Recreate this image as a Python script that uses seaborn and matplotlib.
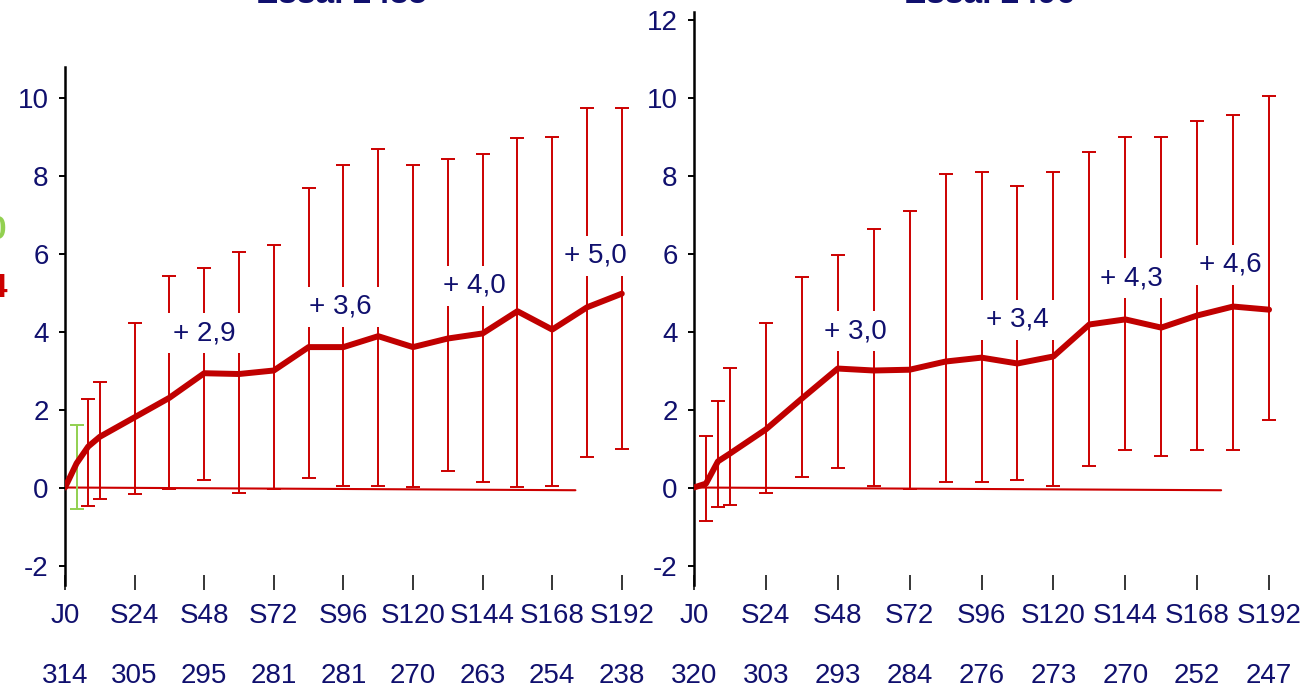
import matplotlib
matplotlib.use("Agg")
import matplotlib.pyplot as plt
import numpy as np
import pandas as pd
import seaborn as sns

# ---------------- data ----------------
weeks = [0, 4, 8, 12, 24, 36, 48, 60, 72, 84, 96, 108, 120, 132, 144, 156, 168, 180, 192]
err_weeks = weeks[1:]
tick_weeks = [0, 24, 48, 72, 96, 120, 144, 168, 192]
tick_labels = ["J0", "S24", "S48", "S72", "S96", "S120", "S144", "S168", "S192"]

left_title = "Essai 2485"
left_mean = [0.0, 0.62, 1.05, 1.3, 1.8, 2.3, 2.93, 2.91, 3.0, 3.6, 3.6, 3.88, 3.6, 3.82, 3.95, 4.52, 4.05, 4.62, 4.97]
left_upper = [1.6, 2.28, 2.7, 4.22, 5.42, 5.63, 6.03, 6.22, 7.68, 8.27, 8.67, 8.27, 8.42, 8.54, 8.95, 8.98, 9.72, 9.72]
left_lower = [-0.56, -0.47, -0.3, -0.16, -0.03, 0.2, -0.15, -0.03, 0.24, 0.04, 0.04, 0.02, 0.42, 0.14, 0.02, 0.04, 0.78, 0.98]
left_n = ["314", "305", "295", "281", "281", "270", "263", "254", "238"]
left_gain_text = ["+ 2,9", "+ 3,6", "+ 4,0", "+ 5,0"]
left_ref_weeks = [0, 176]
left_ref_vals = [0.0, -0.07]

right_title = "Essai 2496"
right_mean = [0.0, 0.1, 0.67, 0.87, 1.49, 2.28, 3.05, 3.0, 3.02, 3.23, 3.33, 3.18, 3.36, 4.18, 4.31, 4.1, 4.41, 4.64, 4.56]
right_upper = [1.33, 2.23, 3.07, 4.23, 5.41, 5.95, 6.64, 7.08, 8.05, 8.08, 7.72, 8.1, 8.59, 9.0, 9.0, 9.41, 9.56, 10.05]
right_lower = [-0.87, -0.51, -0.46, -0.15, 0.26, 0.51, 0.05, -0.03, 0.15, 0.15, 0.2, 0.03, 0.54, 0.95, 0.82, 0.95, 0.95, 1.74]
right_n = ["320", "303", "293", "284", "276", "273", "270", "252", "247"]
right_gain_text = ["+ 3,0", "+ 3,4", "+ 4,3", "+ 4,6"]
right_ref_weeks = [0, 176]
right_ref_vals = [0.0, -0.07]

# annotation anchor positions (week, baseline value)
left_gain_pos = [(48, 3.78), (95, 4.45), (141, 4.99), (183, 5.76)]
right_gain_pos = [(54, 3.83), (108, 4.12), (146, 5.19), (179, 5.53)]

# ---------------- style ----------------
sns.set_theme(style="white")
plt.rcParams["font.family"] = ["Liberation Sans", "DejaVu Sans"]
NAVY = "#10106E"
LINE_RED = "#C00000"
BAR_RED = "#CC0000"
GREEN = "#92D050"
FS = 20

W, H = 1309, 689
fig = plt.figure(figsize=(W / 100, H / 100), dpi=100)
fig.patch.set_facecolor("white")

ZERO_PX = 487.5
PX_PER_UNIT = 39.0
AX_BOTTOM_PX = 590
AX_TOP_PX = 8
ylo = -(AX_BOTTOM_PX - ZERO_PX) / PX_PER_UNIT
yhi = (ZERO_PX - AX_TOP_PX) / PX_PER_UNIT


def make_axes(left_px, px_per_week):
    width_px = 200 * px_per_week
    return fig.add_axes([left_px / W, 1 - AX_BOTTOM_PX / H, width_px / W,
                         (AX_BOTTOM_PX - AX_TOP_PX) / H])


def draw_panel(ax, mean, upper, lower, n_labels, gain_text, gain_pos,
               ref_w, ref_v, yticks, spine_top, first_color):
    ax.set_facecolor("white")
    mean_arr = np.array(mean)
    m = mean_arr[1:]
    up = np.array(upper)
    lo = np.array(lower)
    yerr = np.vstack([m - lo, up - m])

    # reference line at zero
    ax.plot(ref_w, ref_v, color=BAR_RED, lw=1.5, zorder=2)

    # error bars
    ax.errorbar(err_weeks[:1], m[:1], yerr=yerr[:, :1], fmt="none",
                ecolor=first_color, elinewidth=1.4, capsize=5, capthick=1.4, zorder=3)
    ax.errorbar(err_weeks[1:], m[1:], yerr=yerr[:, 1:], fmt="none",
                ecolor=BAR_RED, elinewidth=1.4, capsize=5, capthick=1.4, zorder=3)

    # gain labels with white background
    for txt, (wk, yv) in zip(gain_text, gain_pos):
        ax.text(wk, yv, txt, ha="center", va="baseline", fontsize=FS, color=NAVY,
                zorder=4, bbox=dict(boxstyle="square,pad=0.25", fc="white", ec="none"))

    # mean line
    df = pd.DataFrame({"week": weeks, "mean": mean})
    sns.lineplot(data=df, x="week", y="mean", ax=ax, color=LINE_RED, linewidth=4.3,
                 zorder=5, legend=False)

    ax.set_xlim(0, 200)
    ax.set_ylim(ylo, yhi)
    ax.set_xlabel("")
    ax.set_ylabel("")
    ax.set_xticks(tick_weeks)
    ax.set_xticklabels(tick_labels)
    ax.set_yticks(yticks)
    ax.set_yticklabels([str(v) for v in yticks])
    ax.tick_params(axis="x", direction="in", length=10.5, width=1.1, color="black",
                   labelcolor=NAVY, labelsize=FS, pad=9.5, bottom=True)
    ax.tick_params(axis="y", direction="out", length=4.3, width=1.4, color="black",
                   labelcolor=NAVY, labelsize=FS, pad=7.5, left=True)
    for s in ["top", "right", "bottom"]:
        ax.spines[s].set_visible(False)
    ax.spines["left"].set_color("black")
    ax.spines["left"].set_linewidth(1.8)
    ax.spines["left"].set_bounds(-2.5, spine_top)
    ax.grid(False)

    # patient counts under the x labels
    ax_h = AX_BOTTOM_PX - AX_TOP_PX
    for wk, n in zip(tick_weeks, n_labels):
        ax.text(wk, -(683 - AX_BOTTOM_PX) / ax_h, n, transform=ax.get_xaxis_transform(),
                ha="center", va="baseline", fontsize=FS, color=NAVY, clip_on=False)


ax1 = make_axes(65, 2.9)
ax2 = make_axes(694, 2.995)

draw_panel(ax1, left_mean, left_upper, left_lower, left_n, left_gain_text,
           left_gain_pos, left_ref_weeks, left_ref_vals, [-2, 0, 2, 4, 6, 8, 10],
           10.78, GREEN)
draw_panel(ax2, right_mean, right_upper, right_lower, right_n, right_gain_text,
           right_gain_pos, right_ref_weeks, right_ref_vals, [-2, 0, 2, 4, 6, 8, 10, 12],
           12.19, BAR_RED)

# titles (cut off at top edge, as in the source image)
fig.text(341 / W, 1 - 3 / H, left_title, ha="center", va="baseline", fontsize=24,
         fontweight="bold", color=NAVY)
fig.text(989 / W, 1 - 3 / H, right_title, ha="center", va="baseline", fontsize=24,
         fontweight="bold", color=NAVY)

# partially visible legend glyphs at left edge
fig.text(6 / W, 1 - 230 / H, "0", ha="right", va="center", fontsize=24,
         fontweight="bold", color=GREEN)
fig.text(7 / W, 1 - 288 / H, "4", ha="right", va="center", fontsize=24,
         fontweight="bold", color=BAR_RED)

fig.savefig("out.png", dpi=100, facecolor="white")
